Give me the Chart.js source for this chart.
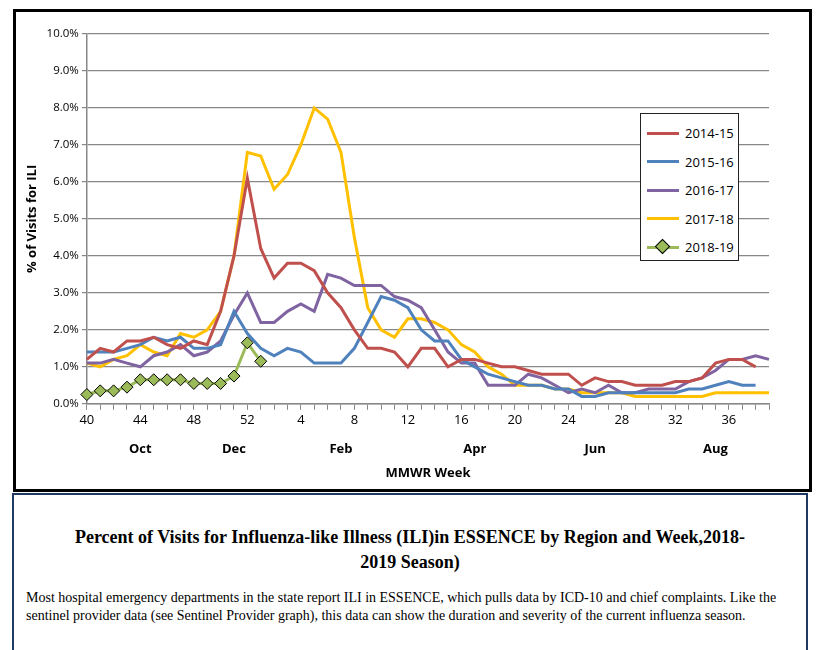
<!DOCTYPE html>
<html>
<head>
<meta charset="utf-8">
<script src="https://cdn.jsdelivr.net/npm/chart.js@4/dist/chart.umd.min.js"></script>
<style>
  body { margin:0; background:#fff; width:816px; height:650px; overflow:hidden; position:relative; font-family:"Liberation Serif", serif; }
  #frame { position:absolute; left:13px; top:9px; width:793px; height:477px; border:3px solid #000; }
  #wrap { position:absolute; left:16px; top:12px; width:793px; height:477px; }
  #legend { position:absolute; left:640px; top:113px; width:99px; height:148px; border:1.5px solid #222; background:#fff;
            font-family:"Open Sans", sans-serif; font-size:13px; box-sizing:border-box; padding-top:5px; }
  .item { height:28.5px; display:flex; align-items:center; }
  .ln { width:32px; height:3px; margin-left:6px; margin-right:6px; position:relative; }
  .dia { position:absolute; left:10px; top:-5px; width:9px; height:9px; background:#9bbb59; border:1px solid #000; transform:rotate(45deg); }
  #note { position:absolute; left:12px; top:493px; width:796px; height:160px; border:2px solid #1f3864; box-sizing:border-box; }
  #note h2 { font-size:18px; font-weight:bold; text-align:center; margin:30px 60px 0; line-height:25px; }
  #note p { font-size:14px; margin:14px 10px 0 12px; line-height:18px; }
</style>
</head>
<body>
<div id="frame"></div>
<div id="wrap"><canvas id="c" width="793" height="477"></canvas></div>
<div id="legend"></div>
<div id="note">
  <h2>Percent of Visits for Influenza-like Illness (ILI)in ESSENCE by Region and Week,2018-2019 Season)</h2>
  <p>Most hospital emergency departments in the state report ILI in ESSENCE, which pulls data by ICD-10 and chief complaints. Like the sentinel provider data (see Sentinel Provider graph), this data can show the duration and severity of the current influenza season.</p>
</div>
<script>
const weeks = [40,41,42,43,44,45,46,47,48,49,50,51,52,1,2,3,4,5,6,7,8,9,10,11,12,13,14,15,16,17,18,19,20,21,22,23,24,25,26,27,28,29,30,31,32,33,34,35,36,37,38,39];
const s1415 = [1.2,1.5,1.4,1.7,1.7,1.8,1.6,1.5,1.7,1.6,2.5,4.0,6.1,4.2,3.4,3.8,3.8,3.6,3.0,2.6,2.0,1.5,1.5,1.4,1.0,1.5,1.5,1.0,1.2,1.2,1.1,1.0,1.0,0.9,0.8,0.8,0.8,0.5,0.7,0.6,0.6,0.5,0.5,0.5,0.6,0.6,0.7,1.1,1.2,1.2,1.0,null];
const s1516 = [1.4,1.4,1.4,1.5,1.6,1.8,1.7,1.8,1.5,1.5,1.6,2.5,1.9,1.5,1.3,1.5,1.4,1.1,1.1,1.1,1.5,2.2,2.9,2.8,2.6,2.0,1.7,1.7,1.2,1.0,0.8,0.7,0.6,0.5,0.5,0.4,0.4,0.2,0.2,0.3,0.3,0.3,0.3,0.3,0.3,0.4,0.4,0.5,0.6,0.5,0.5,null];
const s1617 = [1.1,1.1,1.2,1.1,1.0,1.3,1.4,1.6,1.3,1.4,1.7,2.4,3.0,2.2,2.2,2.5,2.7,2.5,3.5,3.4,3.2,3.2,3.2,2.9,2.8,2.6,2.0,1.4,1.1,1.1,0.5,0.5,0.5,0.8,0.7,0.5,0.3,0.4,0.3,0.5,0.3,0.3,0.4,0.4,0.4,0.6,0.7,0.9,1.2,1.2,1.3,1.2];
const s1718 = [1.1,1.0,1.2,1.3,1.6,1.4,1.3,1.9,1.8,2.0,2.5,4.0,6.8,6.7,5.8,6.2,7.0,8.0,7.7,6.8,4.5,2.6,2.0,1.8,2.3,2.3,2.2,2.0,1.6,1.4,1.0,0.8,0.5,0.5,0.5,0.4,0.4,0.3,0.3,0.3,0.3,0.2,0.2,0.2,0.2,0.2,0.2,0.3,0.3,0.3,0.3,0.3];
const s1819 = [0.25,0.35,0.35,0.45,0.65,0.65,0.65,0.65,0.55,0.55,0.55,0.75,1.65,1.15];
const seasons = ['2014-15','2015-16','2016-17','2017-18','2018-19'];
const colors = ['#c0504d','#4f81bd','#8064a2','#ffc000','#9bbb59'];
const months = [['Oct',44],['Dec',51],['Feb',7],['Apr',17],['Jun',26],['Aug',35]];

const series = [s1415,s1516,s1617,s1718,s1819];
const datasets = series.map((d,i) => ({
  label: seasons[i], data: d, borderColor: colors[i], backgroundColor: colors[i],
  borderWidth: 3, tension: 0, spanGaps: false,
  pointRadius: i === 4 ? 6 : 0, pointStyle: 'rectRot',
  pointBorderColor: '#000', pointBorderWidth: 1
}));

// month names under the week ticks
const monthPlugin = {
  id: 'months',
  afterDraw(chart) {
    const x = chart.scales.x, ctx = chart.ctx, b = chart.chartArea.bottom;
    ctx.save();
    ctx.font = 'bold 13px "Open Sans", sans-serif';
    ctx.fillStyle = '#000'; ctx.textAlign = 'center';
    months.forEach(([m,w]) => ctx.fillText(m, x.getPixelForValue(weeks.indexOf(w)), b + 49));
    ctx.restore();
  }
};

new Chart(document.getElementById('c'), {
  type: 'line',
  data: { labels: weeks.map(String), datasets },
  plugins: [monthPlugin],
  options: {
    responsive: false, animation: false,
    layout: { padding: { left: 4, right: 40, top: 22, bottom: 4 } },
    plugins: { legend: { display: false }, tooltip: { enabled: false } },
    scales: {
      x: {
        offset: false,
        grid: { drawOnChartArea: false, color: '#888', tickLength: 6 },
        border: { color: '#888', width: 1.5 },
        ticks: { autoSkip: false, maxRotation: 0, color: '#000', font: { family: 'Open Sans', size: 13 },
                 callback: (v,i) => i % 4 === 0 ? weeks[i] : '' },
        title: { display: true, text: 'MMWR Week', color: '#000', padding: { top: 34 },
                 font: { family: 'Open Sans', size: 13, weight: 'bold' } }
      },
      y: {
        min: 0, max: 10,
        grid: { color: '#888', lineWidth: 1.2, tickLength: 5 },
        border: { color: '#888', width: 1.5 },
        ticks: { stepSize: 1, color: '#000', font: { family: 'Open Sans', size: 11.5 },
                 callback: v => v.toFixed(1) + '%' },
        title: { display: true, text: '% of Visits for ILI', color: '#000',
                 font: { family: 'Open Sans', size: 13, weight: 'bold' } }
      }
    }
  }
});

const leg = document.getElementById('legend');
seasons.forEach((s,i) => {
  leg.innerHTML += `<div class="item"><div class="ln" style="background:${colors[i]}">${i===4?'<div class="dia"></div>':''}</div>${s}</div>`;
});
</script>
</body>
</html>
